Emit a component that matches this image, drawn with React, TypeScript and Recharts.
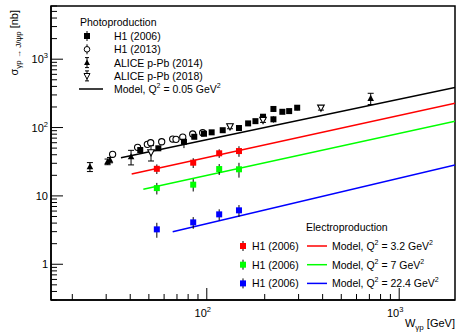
import React from 'react';
import { ComposedChart, Line, Scatter, XAxis, YAxis, ErrorBar, ReferenceArea } from 'recharts';

const xDomain = [15.5, 1950];
const yDomain = [0.3, 6000];
const xTicks = [20, 30, 40, 50, 60, 70, 80, 90, 100, 200, 300, 400, 500, 600, 700, 800, 900, 1000];
const yTicks = [0.3, 0.4, 0.5, 0.6, 0.7, 0.8, 0.9, 1, 2, 3, 4, 5, 6, 7, 8, 9, 10, 20, 30, 40, 50, 60, 70, 80, 90, 100, 200, 300, 400, 500, 600, 700, 800, 900, 1000, 2000, 3000, 4000, 5000, 6000];

// Photoproduction
const h1_2006_W = [45.1, 56, 76.1, 86.1, 96.7, 106, 121, 147, 164, 179, 196, 222, 222, 247, 268, 295];
const h1_2006_sigma = [46.9, 49.7, 62, 73.3, 81.2, 85.1, 91.4, 98.4, 115, 124, 144, 132, 187, 170, 174, 195];
const h1_2006_err = [4, 4, 12, 5, 5, 5, 6, 7, 8, 9, 12, 14, 18, 12, 13, 17];

const h1_2013_W = [32.4, 43.7, 49.1, 51.1, 58.3, 66.5, 69.2, 75, 84.5, 95.2];
const h1_2013_sigma = [40.6, 51.3, 56.8, 60, 62, 67.9, 67.2, 72.6, 80.4, 83.9];
const h1_2013_err = [3, 4, 4, 4, 4, 5, 5, 5, 6, 6];

const alice2014_W = [24.7, 30.5, 31.4, 40.4, 711];
const alice2014_sigma = [26.7, 31.6, 33.5, 37.4, 267];
const alice2014_err = [4, 3, 3, 9, 50];

const alice2018_W = [51.3, 132, 196, 392];
const alice2018_sigma = [43.4, 104, 129, 195];
const alice2018_err = [11, 8, 10, 15];

// Electroproduction (H1 2006)
const electro_W = [55, 85, 116, 147];
const q32_sigma = [24.9, 30.6, 42, 45.3];
const q32_err = [4, 5, 6, 8];
const q7_sigma = [13.0, 14.6, 24.7, 24.5];
const q7_err = [2.5, 3, 4.5, 6];
const q224_sigma = [3.24, 4.1, 5.37, 6.15];
const q224_err = [0.8, 0.8, 1, 1.2];

// Model curves (power law endpoints)
const model005_W = [35.8, 1950];
const model005_sigma = [36.1, 387];
const model32_W = [40.7, 1950];
const model32_sigma = [20.9, 226];
const model7_W = [46.8, 1950];
const model7_sigma = [12.5, 124];
const model224_W = [66.5, 1950];
const model224_sigma = [2.99, 28.3];

const mk = (W: number[], s: number[], e?: number[]) => W.map((w, i) => ({ W: w, s: s[i], e: e ? e[i] : 0 }));

const FONT = '"Liberation Sans", Arial, Helvetica, sans-serif';

const isMajor = (v: number) => {
  const l = Math.log10(v);
  return Math.abs(l - Math.round(l)) < 1e-6;
};

const YTick = (props: any) => {
  const { x, y, payload } = props;
  const v = payload.value;
  const major = isMajor(v);
  const len = major ? 12 : 6;
  const e = Math.round(Math.log10(v));
  return (
    <g>
      <line x1={x} y1={y} x2={x + len} y2={y} stroke="#000" strokeWidth={1} />
      {major && (
        <text x={x - 3} y={y + 4} textAnchor="end" fontFamily={FONT} fontSize={11} fill="#000">
          {e === 0 ? '1' : e === 1 ? '10' : (
            <>
              10<tspan dy={-5} fontSize={7.5}>{e}</tspan>
            </>
          )}
        </text>
      )}
    </g>
  );
};

const XTick = (props: any) => {
  const { x, y, payload } = props;
  const v = payload.value;
  const major = isMajor(v);
  const len = major ? 12 : 6;
  const e = Math.round(Math.log10(v));
  return (
    <g>
      <line x1={x} y1={y} x2={x} y2={y - len} stroke="#000" strokeWidth={1} />
      {major && (
        <text x={x - 4} y={y + 17} textAnchor="middle" fontFamily={FONT} fontSize={11} fill="#000">
          10<tspan dy={-5} fontSize={7.5}>{e}</tspan>
        </text>
      )}
    </g>
  );
};

const Square = (color: string, size = 6) => (p: any) => (
  <rect x={p.cx - size / 2} y={p.cy - size / 2} width={size} height={size} fill={color} />
);
const OpenCircle = (p: any) => <circle cx={p.cx} cy={p.cy} r={3.1} fill="#fff" stroke="#000" strokeWidth={1.1} />;
const UpTriangle = (p: any) => (
  <polygon points={`${p.cx},${p.cy - 3.6} ${p.cx - 3.3},${p.cy + 2.6} ${p.cx + 3.3},${p.cy + 2.6}`} fill="#000" />
);
const DownTriangle = (p: any) => (
  <polygon points={`${p.cx},${p.cy + 3.6} ${p.cx - 3.3},${p.cy - 2.6} ${p.cx + 3.3},${p.cy - 2.6}`} fill="#fff" stroke="#000" strokeWidth={1.1} />
);

const Sup = ({ children }: any) => <tspan dy={-5} fontSize={7}>{children}</tspan>;
const Q2Label = ({ x, y, val }: any) => (
  <text x={x} y={y} fontFamily={FONT} fontSize={10.5} fill="#000">
    Model, Q<tspan dy={-5} fontSize={7}>2</tspan>
    <tspan dy={5}> = {val} GeV</tspan>
    <Sup>2</Sup>
  </text>
);

const LegendMarker = ({ x, y, kind, color }: any) => {
  const bar = <line x1={x} y1={y - 5} x2={x} y2={y + 5} stroke="#000" strokeWidth={1} />;
  let m: any = null;
  if (kind === 'sq') m = <rect x={x - 3} y={y - 3} width={6} height={6} fill={color} />;
  if (kind === 'oc') m = <circle cx={x} cy={y} r={2.8} fill="#fff" stroke="#000" />;
  if (kind === 'ut')
    m = (
      <>
        <line x1={x - 2} y1={y - 5} x2={x + 2} y2={y - 5} stroke="#000" />
        <line x1={x - 2} y1={y + 5} x2={x + 2} y2={y + 5} stroke="#000" />
        <polygon points={`${x},${y - 3.2} ${x - 3},${y + 2.4} ${x + 3},${y + 2.4}`} fill="#000" />
      </>
    );
  if (kind === 'dt')
    m = (
      <>
        <line x1={x - 2} y1={y - 5} x2={x + 2} y2={y - 5} stroke="#000" />
        <line x1={x - 2} y1={y + 5} x2={x + 2} y2={y + 5} stroke="#000" />
        <polygon points={`${x},${y + 3.2} ${x - 3},${y - 2.4} ${x + 3},${y - 2.4}`} fill="#fff" stroke="#000" />
      </>
    );
  return (
    <g>
      {bar}
      {m}
    </g>
  );
};

const photoRows = [
  { label: 'H1 (2006)', kind: 'sq' },
  { label: 'H1 (2013)', kind: 'oc' },
  { label: 'ALICE p-Pb (2014)', kind: 'ut' },
  { label: 'ALICE p-Pb (2018)', kind: 'dt' },
];
const electroRows = [
  { color: '#ff0000', q2: '3.2' },
  { color: '#00ff00', q2: '7' },
  { color: '#0000ff', q2: '22.4' },
];

const Overlay = () => (
  <svg width={458} height={332} style={{ position: 'absolute', left: 0, top: 0, pointerEvents: 'none' }}>
    {/* Y axis title */}
    <text transform="translate(18,10) rotate(-90)" textAnchor="end" fontFamily={FONT} fontSize={11} fill="#000">
      σ<tspan dy={3} fontSize={8}>γp → J/ψp</tspan>
      <tspan dy={-3}> [nb]</tspan>
    </text>
    {/* X axis title */}
    <text x={455} y={327} textAnchor="end" fontFamily={FONT} fontSize={11} fill="#000">
      W<tspan dy={3} fontSize={8}>γp</tspan>
      <tspan dy={-3}> [GeV]</tspan>
    </text>
    {/* Photoproduction legend */}
    <text x={80} y={26} fontFamily={FONT} fontSize={10.5} fill="#000">Photoproduction</text>
    {photoRows.map((r, i) => (
      <g key={r.label}>
        <LegendMarker x={87} y={36 + i * 13.3} kind={r.kind} color="#000" />
        <text x={114} y={40 + i * 13.3} fontFamily={FONT} fontSize={10.5} fill="#000">{r.label}</text>
      </g>
    ))}
    <line x1={79} y1={89} x2={103} y2={89} stroke="#000" strokeWidth={1.5} />
    <Q2Label x={114} y={93} val="0.05" />
    {/* Electroproduction legend */}
    <text x={306} y={231} fontFamily={FONT} fontSize={10.5} fill="#000">Electroproduction</text>
    {electroRows.map((r, i) => (
      <g key={r.q2}>
        <LegendMarker x={243} y={246 + i * 18.7} kind="sq" color={r.color} />
        <text x={252} y={250 + i * 18.7} fontFamily={FONT} fontSize={10.5} fill="#000">H1 (2006)</text>
        <line x1={307} y1={246 + i * 18.7} x2={327} y2={246 + i * 18.7} stroke={r.color} strokeWidth={1.5} />
        <Q2Label x={332} y={250 + i * 18.7} val={r.q2} />
      </g>
    ))}
  </svg>
);

export default function App() {
  return (
    <div style={{ position: 'absolute', left: 0, top: 0, width: 458, height: 332, background: '#fff' }}>
      <ComposedChart width={458} height={332} margin={{ top: 6, right: 3, bottom: 0, left: 0 }}>
        <XAxis
          type="number"
          dataKey="W"
          scale="log"
          domain={xDomain}
          allowDataOverflow
          ticks={xTicks}
          interval={0}
          tickSize={0}
          tickMargin={0}
          tickLine={false}
          tick={<XTick />}
          height={32}
          axisLine={{ stroke: '#000', strokeWidth: 1.5 }}
        />
        <YAxis
          type="number"
          dataKey="s"
          scale="log"
          domain={yDomain}
          allowDataOverflow
          ticks={yTicks}
          interval={0}
          tickSize={0}
          tickMargin={0}
          tickLine={false}
          tick={<YTick />}
          width={51}
          axisLine={{ stroke: '#000', strokeWidth: 1.5 }}
        />
        <ReferenceArea x1={xDomain[0]} x2={xDomain[1]} y1={yDomain[0]} y2={yDomain[1]} fill="none" stroke="#000" strokeWidth={1.5} ifOverflow="visible" />
        <Line data={mk(model005_W, model005_sigma)} dataKey="s" stroke="#000" strokeWidth={1.5} dot={false} isAnimationActive={false} />
        <Line data={mk(model32_W, model32_sigma)} dataKey="s" stroke="#ff0000" strokeWidth={1.5} dot={false} isAnimationActive={false} />
        <Line data={mk(model7_W, model7_sigma)} dataKey="s" stroke="#00ff00" strokeWidth={1.5} dot={false} isAnimationActive={false} />
        <Line data={mk(model224_W, model224_sigma)} dataKey="s" stroke="#0000ff" strokeWidth={1.5} dot={false} isAnimationActive={false} />
        <Scatter data={mk(h1_2013_W, h1_2013_sigma, h1_2013_err)} shape={OpenCircle} isAnimationActive={false}>
          <ErrorBar dataKey="e" direction="y" width={0} stroke="#000" strokeWidth={1} />
        </Scatter>
        <Scatter data={mk(h1_2006_W, h1_2006_sigma, h1_2006_err)} shape={Square('#000')} isAnimationActive={false}>
          <ErrorBar dataKey="e" direction="y" width={0} stroke="#000" strokeWidth={1} />
        </Scatter>
        <Scatter data={mk(alice2014_W, alice2014_sigma, alice2014_err)} shape={UpTriangle} isAnimationActive={false}>
          <ErrorBar dataKey="e" direction="y" width={3} stroke="#000" strokeWidth={1} />
        </Scatter>
        <Scatter data={mk(alice2018_W, alice2018_sigma, alice2018_err)} shape={DownTriangle} isAnimationActive={false}>
          <ErrorBar dataKey="e" direction="y" width={3} stroke="#000" strokeWidth={1} />
        </Scatter>
        <Scatter data={mk(electro_W, q32_sigma, q32_err)} shape={Square('#ff0000')} isAnimationActive={false}>
          <ErrorBar dataKey="e" direction="y" width={0} stroke="#000" strokeWidth={1} />
        </Scatter>
        <Scatter data={mk(electro_W, q7_sigma, q7_err)} shape={Square('#00ff00')} isAnimationActive={false}>
          <ErrorBar dataKey="e" direction="y" width={0} stroke="#000" strokeWidth={1} />
        </Scatter>
        <Scatter data={mk(electro_W, q224_sigma, q224_err)} shape={Square('#0000ff')} isAnimationActive={false}>
          <ErrorBar dataKey="e" direction="y" width={0} stroke="#000" strokeWidth={1} />
        </Scatter>
      </ComposedChart>
      <Overlay />
    </div>
  );
}
